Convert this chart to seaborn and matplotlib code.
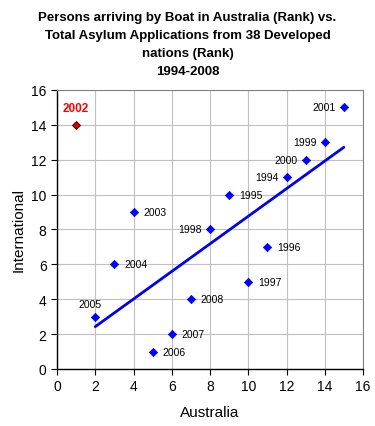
import matplotlib
matplotlib.use("Agg")
import matplotlib.pyplot as plt
import seaborn as sns
import pandas as pd

years = ["2002", "2005", "2004", "2003", "2006", "2007", "2008", "1998",
         "1995", "1997", "1996", "1994", "2000", "1999", "2001"]
australia = [1, 2, 3, 4, 5, 6, 7, 8, 9, 10, 11, 12, 13, 14, 15]
international = [14, 3, 6, 9, 1, 2, 4, 8, 10, 5, 7, 11, 12, 13, 15]
label_side = ["top", "topleft", "right", "right", "right", "right", "right", "left",
              "right", "right", "right", "left", "left", "left", "left"]

df = pd.DataFrame({"year": years, "Australia": australia, "International": international,
                   "side": label_side})
main = df[df.year != "2002"]
outlier = df[df.year == "2002"]

sns.set_style("white")
plt.rcParams["font.family"] = ["Liberation Sans", "DejaVu Sans"]
plt.rcParams["text.color"] = "black"
plt.rcParams["axes.labelcolor"] = "black"
plt.rcParams["xtick.color"] = "black"
plt.rcParams["ytick.color"] = "black"

fig = plt.figure(figsize=(3.75, 4.27), dpi=100)
ax = fig.add_axes([0.152, 0.1335, 0.816, 0.6535])

sns.regplot(data=main, x="Australia", y="International", ax=ax, scatter=False,
            ci=None, truncate=True, line_kws=dict(color="#0000ee", lw=2))
sns.scatterplot(data=main, x="Australia", y="International", ax=ax, marker="D",
                color="#0000ff", s=18, edgecolor="#0000ff", linewidth=0.5, zorder=5)
sns.scatterplot(data=outlier, x="Australia", y="International", ax=ax, marker="D",
                color="#dd0000", s=16, edgecolor="#400000", linewidth=0.7, zorder=5)

offsets = {"right": (7, 0, "left", "center"), "left": (-6, 0, "right", "center"),
           "topleft": (-4, 9, "center", "center"), "top": (0, 12, "center", "center")}
for _, r in df.iterrows():
    dx, dy, ha, va = offsets[r.side]
    if r.year == "2002":
        ax.annotate(r.year, (r.Australia, r.International), xytext=(dx, dy),
                    textcoords="offset points", ha=ha, va=va, color="red",
                    fontsize=8.5, fontweight="bold")
    else:
        ax.annotate(r.year, (r.Australia, r.International), xytext=(dx, dy),
                    textcoords="offset points", ha=ha, va=va, color="black",
                    fontsize=7.5)

ax.set_xlim(0, 16)
ax.set_ylim(0, 16)
ax.set_xticks(range(0, 17, 2))
ax.set_yticks(range(0, 17, 2))
ax.grid(True, color="#c0c0c0", lw=0.8)
ax.set_axisbelow(True)
for s in ["top", "right"]:
    ax.spines[s].set_color("#808080")
    ax.spines[s].set_linewidth(0.8)
for s in ["left", "bottom"]:
    ax.spines[s].set_color("black")
    ax.spines[s].set_linewidth(1)
ax.tick_params(axis="both", labelsize=10, length=4, direction="out", color="black",
               left=True, bottom=True)
ax.set_xlabel("Australia", fontsize=11, labelpad=8)
ax.set_ylabel("International", fontsize=11, labelpad=4)

fig.text(0.5, 0.972, "Persons arriving by Boat in Australia (Rank) vs.\n"
         "Total Asylum Applications from 38 Developed\nnations (Rank)\n1994-2008",
         ha="center", va="top", fontsize=9.5, fontweight="bold", linespacing=1.65)

fig.savefig("out.png", dpi=100, facecolor="white")
